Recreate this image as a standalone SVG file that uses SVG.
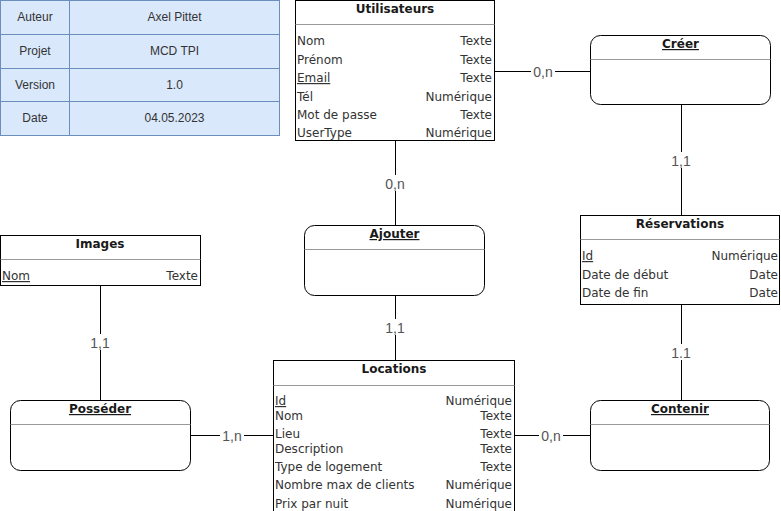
<svg xmlns="http://www.w3.org/2000/svg" width="781" height="511" viewBox="0 0 781 511">
<style>
.bg{fill:#ffffff}
.cell{fill:#dae8fc;stroke:#6c8ebf;stroke-width:1}
.ct{font-family:"Liberation Sans",Arial,sans-serif;font-size:12px;fill:#333333;text-anchor:middle}
.box{fill:#ffffff;stroke:#000000;stroke-width:1}
.sep{stroke:#999999;stroke-width:1}
.t{font-family:"DejaVu Sans",Verdana,sans-serif;font-size:12px;fill:#333333}
.r{text-anchor:end}
.h{font-weight:bold;text-anchor:middle;fill:#1a1a1a}
.u{text-decoration:underline}
.ln{stroke:#000000;stroke-width:1;fill:none}
.lb{font-family:"Liberation Sans",Arial,sans-serif;font-size:14px;fill:#555555;text-anchor:middle}
.lbg{fill:#ffffff}
</style>
<rect class="bg" x="0" y="0" width="781" height="511"/>

<g id="info">
<rect class="cell" x="0.5" y="0.5" width="69" height="34"/>
<rect class="cell" x="69.5" y="0.5" width="210" height="34"/>
<rect class="cell" x="0.5" y="34.5" width="69" height="34"/>
<rect class="cell" x="69.5" y="34.5" width="210" height="34"/>
<rect class="cell" x="0.5" y="68.5" width="69" height="33"/>
<rect class="cell" x="69.5" y="68.5" width="210" height="33"/>
<rect class="cell" x="0.5" y="101.5" width="69" height="34"/>
<rect class="cell" x="69.5" y="101.5" width="210" height="34"/>
<text class="ct" x="35" y="21">Auteur</text>
<text class="ct" x="174.5" y="21">Axel Pittet</text>
<text class="ct" x="35" y="55">Projet</text>
<text class="ct" x="174.5" y="55">MCD TPI</text>
<text class="ct" x="35" y="89">Version</text>
<text class="ct" x="174.5" y="89">1.0</text>
<text class="ct" x="35" y="122">Date</text>
<text class="ct" x="174.5" y="122">04.05.2023</text>
</g>

<g id="connectors">
<line class="ln" x1="494" y1="71.5" x2="590" y2="71.5"/>
<line class="ln" x1="681.5" y1="105" x2="681.5" y2="215"/>
<line class="ln" x1="681.5" y1="305" x2="681.5" y2="400"/>
<line class="ln" x1="514" y1="435.5" x2="590" y2="435.5"/>
<line class="ln" x1="395.5" y1="141" x2="395.5" y2="225"/>
<line class="ln" x1="395.5" y1="296" x2="395.5" y2="360"/>
<line class="ln" x1="100.5" y1="286" x2="100.5" y2="400"/>
<line class="ln" x1="190" y1="435.5" x2="273" y2="435.5"/>
<rect class="lbg" x="531" y="63" width="24" height="16"/>
<text class="lb" x="543" y="76.5">0,n</text>
<rect class="lbg" x="669" y="152" width="25" height="16"/>
<text class="lb" x="681" y="165.5">1,1</text>
<rect class="lbg" x="669" y="344" width="25" height="16"/>
<text class="lb" x="681" y="357.5">1.1</text>
<rect class="lbg" x="539" y="427" width="24" height="16"/>
<text class="lb" x="551" y="440.5">0,n</text>
<rect class="lbg" x="383" y="175" width="24" height="16"/>
<text class="lb" x="395" y="188.5">0,n</text>
<rect class="lbg" x="383" y="319" width="25" height="16"/>
<text class="lb" x="395" y="332.5">1,1</text>
<rect class="lbg" x="88" y="334" width="25" height="16"/>
<text class="lb" x="100" y="347.5">1,1</text>
<rect class="lbg" x="220" y="427" width="24" height="16"/>
<text class="lb" x="232" y="440.5">1,n</text>
</g>

<g id="utilisateurs">
<rect class="box" x="295.5" y="0.5" width="199" height="140"/>
<line class="sep" x1="295.5" y1="24.5" x2="494.5" y2="24.5"/>
<text class="t h" x="395" y="13">Utilisateurs</text>
<text class="t" x="297" y="45">Nom</text><text class="t r" x="492" y="45">Texte</text>
<text class="t" x="297" y="64">Prénom</text><text class="t r" x="492" y="64">Texte</text>
<text class="t u" x="297" y="82">Email</text><text class="t r" x="492" y="82">Texte</text>
<text class="t" x="297" y="101">Tél</text><text class="t r" x="492" y="101">Numérique</text>
<text class="t" x="297" y="119">Mot de passe</text><text class="t r" x="492" y="119">Texte</text>
<text class="t" x="297" y="137">UserType</text><text class="t r" x="492" y="137">Numérique</text>
</g>

<g id="creer">
<rect class="box" x="590.5" y="35.5" width="180" height="69" rx="10" ry="10"/>
<line class="sep" x1="590.5" y1="59.5" x2="770.5" y2="59.5"/>
<text class="t h u" x="680.5" y="48">Créer</text>
</g>

<g id="reservations">
<rect class="box" x="580.5" y="215.5" width="199" height="89"/>
<line class="sep" x1="580.5" y1="239.5" x2="779.5" y2="239.5"/>
<text class="t h" x="680" y="228">Réservations</text>
<text class="t u" x="582" y="260">Id</text><text class="t r" x="778" y="260">Numérique</text>
<text class="t" x="582" y="279">Date de début</text><text class="t r" x="778" y="279">Date</text>
<text class="t" x="582" y="297">Date de fin</text><text class="t r" x="778" y="297">Date</text>
</g>

<g id="contenir">
<rect class="box" x="590.5" y="400.5" width="179" height="70" rx="10" ry="10"/>
<line class="sep" x1="590.5" y1="424.5" x2="769.5" y2="424.5"/>
<text class="t h u" x="680" y="413">Contenir</text>
</g>

<g id="ajouter">
<rect class="box" x="304.5" y="225.5" width="180" height="70" rx="10" ry="10"/>
<line class="sep" x1="304.5" y1="249.5" x2="484.5" y2="249.5"/>
<text class="t h u" x="394.5" y="238">Ajouter</text>
</g>

<g id="locations">
<rect class="box" x="273.5" y="360.5" width="241" height="155"/>
<line class="sep" x1="273.5" y1="385.5" x2="514.5" y2="385.5"/>
<text class="t h" x="394" y="373">Locations</text>
<text class="t u" x="275" y="405">Id</text><text class="t r" x="512" y="405">Numérique</text>
<text class="t" x="275" y="420">Nom</text><text class="t r" x="512" y="420">Texte</text>
<text class="t" x="275" y="438">Lieu</text><text class="t r" x="512" y="438">Texte</text>
<text class="t" x="275" y="453">Description</text><text class="t r" x="512" y="453">Texte</text>
<text class="t" x="275" y="471">Type de logement</text><text class="t r" x="512" y="471">Texte</text>
<text class="t" x="275" y="489">Nombre max de clients</text><text class="t r" x="512" y="489">Numérique</text>
<text class="t" x="275" y="508">Prix par nuit</text><text class="t r" x="512" y="508">Numérique</text>
</g>

<g id="images">
<rect class="box" x="0.5" y="235.5" width="200" height="50"/>
<line class="sep" x1="0.5" y1="259.5" x2="200.5" y2="259.5"/>
<text class="t h" x="100" y="248">Images</text>
<text class="t u" x="2" y="280">Nom</text><text class="t r" x="198" y="280">Texte</text>
</g>

<g id="posseder">
<rect class="box" x="10.5" y="400.5" width="180" height="70" rx="10" ry="10"/>
<line class="sep" x1="10.5" y1="424.5" x2="190.5" y2="424.5"/>
<text class="t h u" x="100" y="413">Posséder</text>
</g>
</svg>
